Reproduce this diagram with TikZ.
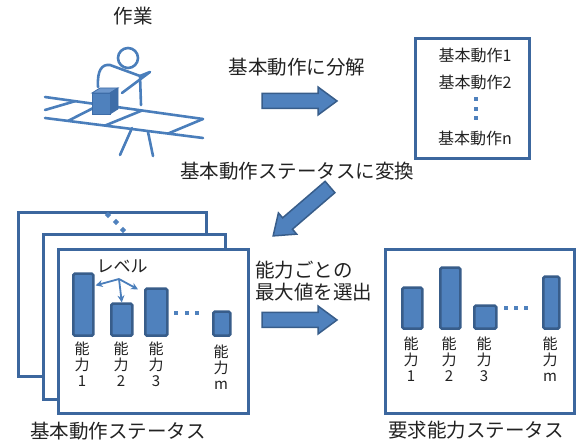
\documentclass[tikz,border=0pt]{standalone}
\usepackage{fontspec}
\setmainfont{Noto Sans CJK JP}
\usetikzlibrary{arrows.meta,calc}

\definecolor{barfill}{HTML}{4F81BD}
\definecolor{barline}{HTML}{385D8A}
\definecolor{frame}{HTML}{3C679E}
\definecolor{sketch}{HTML}{4A7EBB}
\definecolor{ink}{HTML}{222222}
\definecolor{cubetop}{HTML}{6D97CD}
\definecolor{cubeside}{HTML}{3E6DA8}

\tikzset{
  panel/.style={draw=frame, line width=3pt, fill=white, inner sep=0pt, anchor=north west},
  bar/.style={draw=barline, line width=2.6pt, fill=barfill, rounded corners=1.5pt, inner sep=0pt, anchor=south west},
  barlabel/.style={align=center, font=\fontsize{15}{16}\selectfont, text=ink, inner sep=0pt, anchor=north},
  caption/.style={font=\fontsize{19.5}{22}\selectfont, text=ink, inner sep=0pt},
  listtext/.style={font=\fontsize{16}{18}\selectfont, text=ink, inner sep=0pt},
  sq/.style={fill=barfill, inner sep=0pt, minimum size=4.5pt},
  blockarrow/.style={draw=barline, line width=1.5pt, fill=barfill, line join=miter},
  sketchline/.style={draw=sketch, line width=2.6pt, line cap=round, line join=round},
  levelarrow/.style={draw=sketch, line width=1.8pt, -{Stealth[length=7pt,width=7pt]}},
}

% block arrow pointing along +x, 75 long
\newcommand{\blockarrowpath}{(0,-7.5) -- (56,-7.5) -- (56,-14) -- (75,0) -- (56,14) -- (56,7.5) -- (0,7.5) -- cycle}

\begin{document}
\begin{tikzpicture}[x=1pt, y=-1pt]
\useasboundingbox (0,0) rectangle (576,443);

% ---------- worker at the conveyor ----------
\node[caption] (work) at (133,16) {作業};

% conveyor rails and slats
\draw[sketchline] (45,97) -- (203,119);
\draw[sketchline] (45,118) -- (203,138);
\draw[sketchline] (45,110) -- (75,101.2);
\draw[sketchline] (68,120.9) -- (100,104.6);
\draw[sketchline] (105,125.6) -- (142,110.5);
\draw[sketchline] (168,133.6) -- (203,119);
% conveyor legs
\draw[sketchline] (132,128) -- (120,155);
\draw[sketchline] (148,132) -- (153,156);

% person
\draw[sketchline] (128,58) circle (10);
\draw[sketchline] (98,87) .. controls (97,70) and (102,64) .. (110,65) -- (140,76) -- (141,105);
\draw[sketchline] (140,76) -- (150,72) -- (122,93);

% box on the belt
\draw[draw=cubeside, line width=0.8pt, fill=cubetop] (92,93) -- (100,88) -- (118,88) -- (110,93) -- cycle;
\draw[draw=cubeside, line width=0.8pt, fill=cubeside] (110,93) -- (118,88) -- (118,109) -- (110,114) -- cycle;
\draw[draw=cubeside, line width=0.8pt, fill=barfill] (92,93) rectangle (110,114);

% ---------- decomposition ----------
\node[caption] (decomp) at (297,67) {基本動作に分解};
\begin{scope}[shift={(262,101)}]
  \draw[blockarrow] \blockarrowpath;
\end{scope}

\node[panel, minimum width=114pt, minimum height=120pt] (list) at (414,37) {};
\node[listtext] (m1) at (475,55) {基本動作1};
\node[listtext] (m2) at (475,82) {基本動作2};
\node[sq] (v1) at (476,99) {};
\node[sq] (v2) at (476,109) {};
\node[sq] (v3) at (476,118) {};
\node[listtext] (mn) at (475,138) {基本動作n};

% ---------- conversion ----------
\node[caption] (convert) at (297,171) {基本動作ステータスに変換};
\begin{scope}[shift={(330,187)}, rotate=220.7]
  \draw[blockarrow] \blockarrowpath;
\end{scope}

% ---------- stack of basic-motion status sheets ----------
\node[panel, minimum width=188pt, minimum height=164pt] (back) at (17,211) {};
\node[sq, rotate=45] (d1) at (108,215) {};
\node[sq, rotate=45] (d2) at (116,222) {};
\node[sq, rotate=45] (d3) at (123,230) {};
\node[panel, minimum width=182pt, minimum height=165pt] (mid) at (42,233) {};
\node[panel, minimum width=190pt, minimum height=164pt] (front) at (57,248) {};

\node[bar, minimum width=20pt, minimum height=62pt] (b1) at (72,337) {};
\node[bar, minimum width=21pt, minimum height=32pt] (b2) at (110,337) {};
\node[bar, minimum width=22pt, minimum height=47pt] (b3) at (144,337) {};
\node[bar, minimum width=17pt, minimum height=24pt] (bm) at (212,337) {};
\node[sq] (f1) at (176,313) {};
\node[sq] (f2) at (187,313) {};
\node[sq] (f3) at (197,313) {};

\node[barlabel] (l1) at (82,342) {能\\力\\1};
\node[barlabel] (l2) at (121,342) {能\\力\\2};
\node[barlabel] (l3) at (156,342) {能\\力\\3};
\node[barlabel] (lm) at (221,345) {能\\力\\m};

\node[font=\fontsize{17}{18}\selectfont, text=ink, inner sep=0pt] (level) at (122,266) {レベル};
\coordinate (lv) at (119,279);
\draw[levelarrow] (lv) -- ($(b1.north east)+(1,13)$);
\draw[levelarrow] (lv) -- (b2.north);
\draw[levelarrow] (lv) -- ($(b3.north west)+(-6,2)$);

\node[caption] (statuscap) at (118,431) {基本動作ステータス};

% ---------- selection of maxima ----------
\node[caption, align=left, anchor=west] (select) at (255,281) {能力ごとの\\最大値を選出};
\begin{scope}[shift={(262,320)}]
  \draw[blockarrow] \blockarrowpath;
\end{scope}

% ---------- required ability status ----------
\node[panel, minimum width=189pt, minimum height=164pt] (req) at (384,248) {};
\node[bar, minimum width=20pt, minimum height=41pt] (r1) at (401,330) {};
\node[bar, minimum width=20pt, minimum height=61pt] (r2) at (439,330) {};
\node[bar, minimum width=22pt, minimum height=23pt] (r3) at (473,330) {};
\node[bar, minimum width=16pt, minimum height=52pt] (rm) at (542,330) {};
\node[sq] (g1) at (506,308) {};
\node[sq] (g2) at (516,308) {};
\node[sq] (g3) at (526,308) {};

\node[barlabel] (q1) at (411,337) {能\\力\\1};
\node[barlabel] (q2) at (449,337) {能\\力\\2};
\node[barlabel] (q3) at (484,337) {能\\力\\3};
\node[barlabel] (qm) at (550,337) {能\\力\\m};

\node[caption] (reqcap) at (476,430) {要求能力ステータス};
\end{tikzpicture}
\end{document}
